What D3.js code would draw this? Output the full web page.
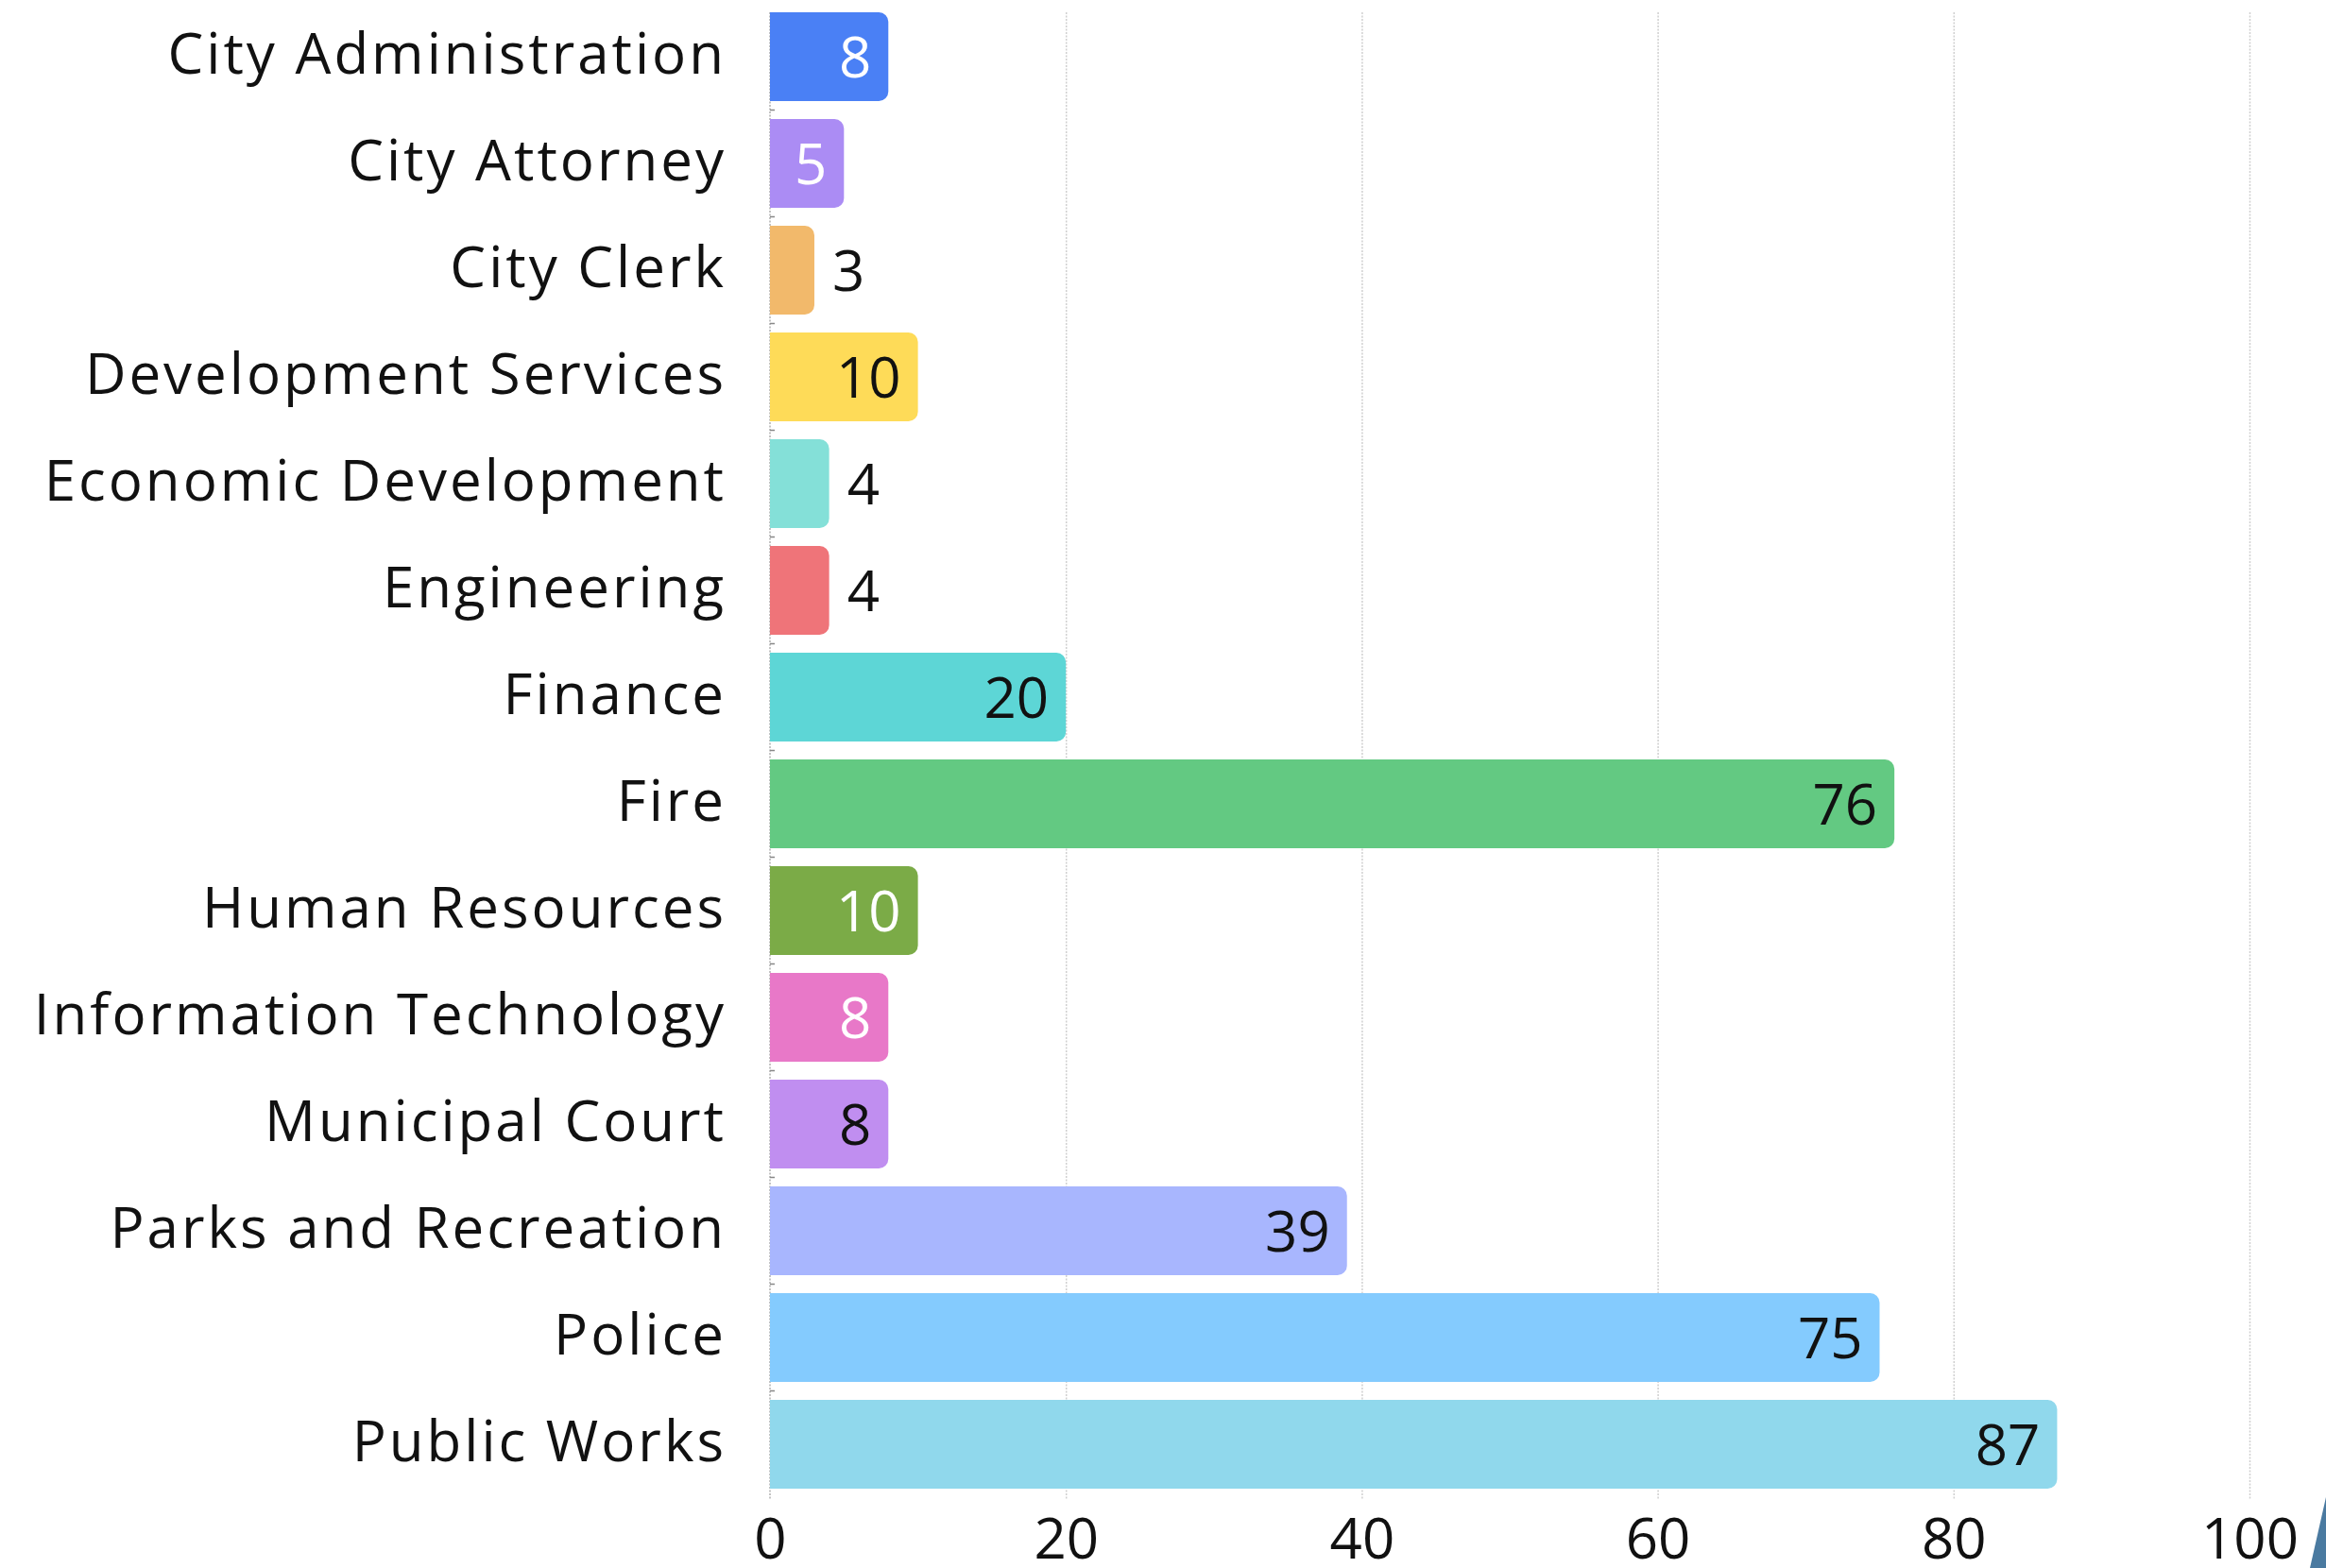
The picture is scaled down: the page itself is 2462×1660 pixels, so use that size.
<!DOCTYPE html>
<html>
<head>
<meta charset="utf-8">
<script src="https://cdn.jsdelivr.net/npm/d3@7"></script>
<style>
  html, body { margin: 0; padding: 0; background: #fff; }
  svg text { font-family: "Open Sans", "Noto Sans", sans-serif; fill: #111; }
</style>
</head>
<body>
<svg id="chart" width="2462" height="1660"></svg>
<script>
// data
const categories = [
  "City Administration", "City Attorney", "City Clerk", "Development Services",
  "Economic Development", "Engineering", "Finance", "Fire", "Human Resources",
  "Information Technology", "Municipal Court", "Parks and Recreation", "Police", "Public Works"
];
const values = [8, 5, 3, 10, 4, 4, 20, 76, 10, 8, 8, 39, 75, 87];
const xTicks = [0, 20, 40, 60, 80, 100];

// bar fills + label colour (inside labels)
const barColors = [
  "#4a80f5", "#ab8cf4", "#f2b96b", "#fedb58", "#84e0d8", "#ef7479", "#5dd6d6",
  "#63c982", "#7bab47", "#e878c8", "#c08ef0", "#a8b6fe", "#84cbfe", "#90d8ec"
];
const insideText = [
  "#fff", "#fff", "#111", "#111", "#111", "#111", "#111",
  "#111", "#fff", "#fff", "#111", "#111", "#111", "#111"
];

const fontSize = 60;
const data = categories.map((c, i) => ({ name: c, value: values[i], i }));

const svg = d3.select("#chart");

const x = d3.scaleLinear().domain([0, 100]).range([815, 2381]);
const y = d3.scaleBand().domain(categories).range([13, 1576]).paddingInner(0.168).paddingOuter(0);

// grid
const grid = d3.axisBottom(x).tickValues(xTicks.slice(1)).tickSize(1587 - 13).tickFormat("");
svg.append("g")
  .attr("transform", "translate(0,13)")
  .call(grid)
  .call(g => g.select(".domain").remove())
  .call(g => g.selectAll("line").attr("stroke", "#cfcfcf").attr("stroke-width", 1.5).attr("stroke-dasharray", "2,1.5"));

// left axis line
svg.append("line")
  .attr("x1", x(0)).attr("x2", x(0)).attr("y1", 13).attr("y2", 1587)
  .attr("stroke", "#b0b0b0").attr("stroke-width", 1.5).attr("stroke-dasharray", "2,1.5");

// small ticks between bands
svg.append("g").selectAll("line")
  .data(categories.slice(1))
  .join("line")
  .attr("x1", x(0)).attr("x2", x(0) + 5)
  .attr("y1", d => y(d) - y.step() * y.paddingInner() / 2)
  .attr("y2", d => y(d) - y.step() * y.paddingInner() / 2)
  .attr("stroke", "#888").attr("stroke-width", 1.5);

function barPath(x0, y0, w, h, r) {
  r = Math.min(r, w / 2, h / 2);
  return "M" + x0 + "," + y0 +
    "H" + (x0 + w - r) +
    "A" + r + "," + r + " 0 0 1 " + (x0 + w) + "," + (y0 + r) +
    "V" + (y0 + h - r) +
    "A" + r + "," + r + " 0 0 1 " + (x0 + w - r) + "," + (y0 + h) +
    "H" + x0 + "Z";
}

svg.append("g").selectAll("path")
  .data(data)
  .join("path")
  .attr("d", d => barPath(x(0), y(d.name), x(d.value) - x(0), y.bandwidth(), 10))
  .attr("fill", d => barColors[d.i]);

// value labels
const labels = svg.append("g").selectAll("text")
  .data(data)
  .join("text")
  .attr("y", d => y(d.name) + y.bandwidth() / 2)
  .attr("dy", "0.36em")
  .style("font-size", fontSize + "px")
  .text(d => d.value);

labels.each(function(d) {
  const tw = this.getComputedTextLength();
  const w = x(d.value) - x(0);
  const t = d3.select(this);
  if (tw + 36 < w) {
    t.attr("x", x(d.value) - 18).attr("text-anchor", "end").style("fill", insideText[d.i]);
  } else {
    t.attr("x", x(d.value) + 19).attr("text-anchor", "start").style("fill", "#111");
  }
});

// y axis labels
svg.append("g")
  .attr("transform", "translate(" + x(0) + ",0)")
  .call(d3.axisLeft(y).tickSize(0).tickPadding(46))
  .call(g => g.select(".domain").remove())
  .call(g => g.selectAll("text")
    .style("font-size", fontSize + "px")
    .style("letter-spacing", "3px")
    .attr("dy", "0.3em"));

// x axis labels
svg.append("g")
  .attr("transform", "translate(0,1587)")
  .call(d3.axisBottom(x).tickValues(xTicks).tickSize(0).tickPadding(20))
  .call(g => g.select(".domain").remove())
  .call(g => g.selectAll("text").style("font-size", fontSize + "px"));

// corner shape seen at the bottom right of the slide
svg.append("path")
  .attr("d", "M2462,1585L2445,1660L2462,1660Z")
  .attr("fill", "#4a7aa0");
</script>
</body>
</html>
